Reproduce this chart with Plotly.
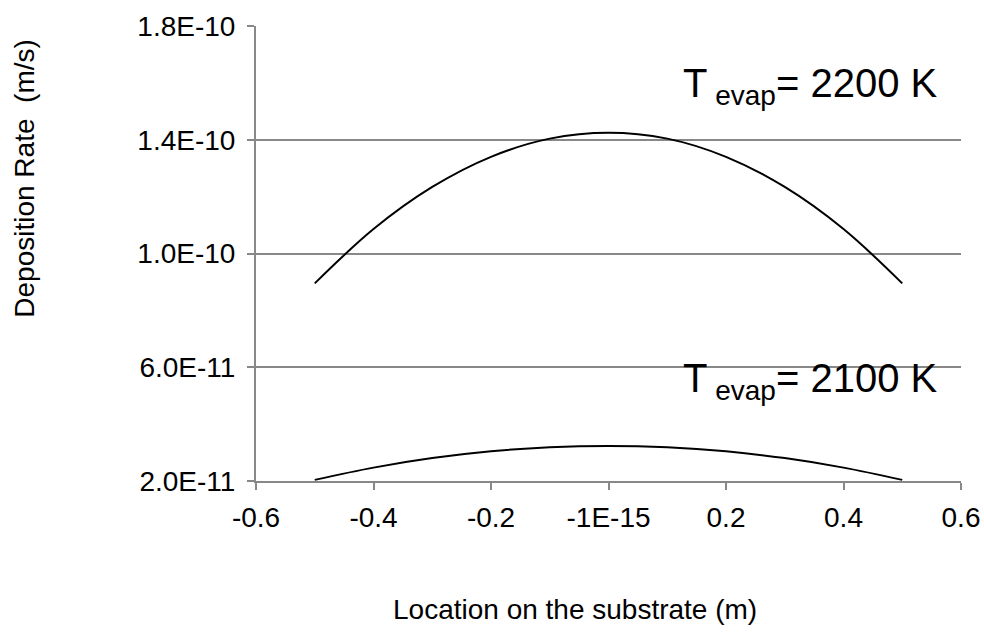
import plotly.graph_objects as go

# Data
x_pos = [-0.5, -0.4, -0.3, -0.2, -0.1, 0.0, 0.1, 0.2, 0.3, 0.4, 0.5]
rate_2200 = [8.95e-11, 1.086e-10, 1.234e-10, 1.340e-10, 1.404e-10, 1.425e-10,
             1.404e-10, 1.340e-10, 1.234e-10, 1.086e-10, 8.95e-11]
rate_2100 = [2.04e-11, 2.47e-11, 2.805e-11, 3.044e-11, 3.187e-11, 3.235e-11,
             3.187e-11, 3.044e-11, 2.805e-11, 2.47e-11, 2.04e-11]

x_tickvals = [-0.6, -0.4, -0.2, 0.0, 0.2, 0.4, 0.6]
x_ticktext = ["-0.6", "-0.4", "-0.2", "-1E-15", "0.2", "0.4", "0.6"]
y_tickvals = [2.0e-11, 6.0e-11, 1.0e-10, 1.4e-10, 1.8e-10]
y_ticktext = ["2.0E-11", "6.0E-11", "1.0E-10", "1.4E-10", "1.8E-10"]

x_title = "Location on the substrate (m)"
y_title = "Deposition Rate&nbsp; (m/s)"

FONT = "Arial, Liberation Sans, sans-serif"
AX = "#888888"

fig = go.Figure()
fig.add_trace(go.Scatter(x=x_pos, y=rate_2200, mode="lines", line_shape="spline",
                         line=dict(color="black", width=2), showlegend=False))
fig.add_trace(go.Scatter(x=x_pos, y=rate_2100, mode="lines", line_shape="spline",
                         line=dict(color="black", width=2), showlegend=False))

fig.add_annotation(x=0.565, y=1.59e-10, xref="x", yref="y", xanchor="right", yanchor="middle",
                   text="T<sub> evap</sub>= 2200 K", showarrow=False,
                   font=dict(family=FONT, size=40, color="black"))
fig.add_annotation(x=0.565, y=5.5e-11, xref="x", yref="y", xanchor="right", yanchor="middle",
                   text="T<sub> evap</sub>= 2100 K", showarrow=False,
                   font=dict(family=FONT, size=40, color="black"))

# Axis titles (placed as in the reference, off-centre)
fig.add_annotation(x=0.4525, y=-0.283, xref="paper", yref="paper", xanchor="center", yanchor="middle",
                   text=x_title, showarrow=False,
                   font=dict(family=FONT, size=28, color="black"))
fig.add_annotation(x=-0.328, y=0.666, xref="paper", yref="paper", xanchor="center", yanchor="middle",
                   text=y_title, showarrow=False, textangle=-90,
                   font=dict(family=FONT, size=28, color="black"))

fig.update_layout(
    width=984, height=632,
    margin=dict(l=256, r=23, t=26, b=151, autoexpand=False),
    paper_bgcolor="white", plot_bgcolor="white",
    font=dict(family=FONT, size=28, color="black"),
    xaxis=dict(range=[-0.6, 0.6], tickvals=x_tickvals, ticktext=x_ticktext,
               showgrid=False, zeroline=False, showline=True, linecolor=AX, linewidth=2,
               ticks="outside", ticklen=7, tickcolor=AX, tickwidth=2,
               ticklabelstandoff=3, automargin=False),
    yaxis=dict(range=[2.0e-11, 1.8e-10], tickvals=y_tickvals, ticktext=y_ticktext,
               showgrid=True, gridcolor=AX, gridwidth=2, zeroline=False,
               showline=True, linecolor=AX, linewidth=2,
               ticks="outside", ticklen=7, tickcolor=AX, tickwidth=2,
               ticklabelstandoff=6, automargin=False),
)

fig.write_html("out.html")
